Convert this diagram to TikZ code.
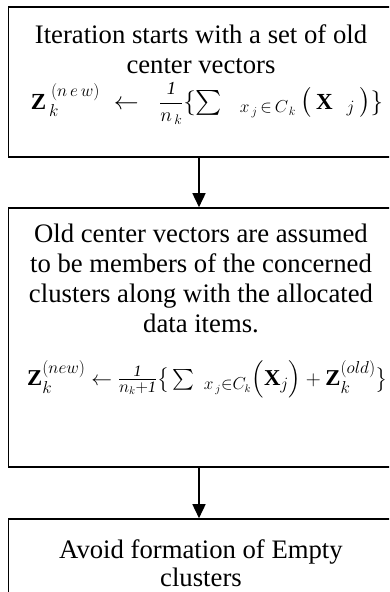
\documentclass[tikz,border=0pt]{standalone}
\usepackage{fontspec}
\usepackage{amsmath}
\usepackage{graphicx}
\setmainfont{Liberation Serif}
\usetikzlibrary{arrows.meta}

\tikzset{
  flowbox/.style={draw=black, line width=1.6pt, rectangle,
    minimum width=383.5pt, inner sep=0pt},
  boxtext/.style={font=\fontsize{26.7}{30}\selectfont, align=center,
    inner sep=0pt, anchor=north},
  eqn/.style={font=\fontsize{23}{27}\selectfont, inner sep=0pt, anchor=base},
  flowarrow/.style={line width=1.6pt, -{Triangle[length=14pt,width=13pt]}}
}

\begin{document}
\begin{tikzpicture}[x=1pt,y=-1pt]
  \useasboundingbox (0,0) rectangle (389,592);
  \clip (0,0) rectangle (389,592);

  % the three process boxes
  \node[flowbox, minimum height=150pt] (b1) at (200.25,82) {};
  \node[flowbox, minimum height=259pt] (b2) at (200.25,337.5) {};
  \node[flowbox, minimum height=132pt] (b3) at (200.25,585) {};

  % box 1: start of an iteration
  \node[boxtext] (t1) at (201,24.8)
    {Iteration starts with a set of old\\center vectors};
  \node[eqn] (e1) at (207,109)
    {$\mathbf{Z}^{\;(n\,e\,w)}_{\,k}\;\leftarrow\;\;
      \raisebox{0.1ex}{\scalebox{0.8}{$\displaystyle\frac{\textit{1}}{n_{\,k}}$}}%
      \{\textstyle\sum\;\;{}_{x_{\,j}\,\in\,C_{\,k}}
      \,\big(\,\mathbf{X}\;\;{}_{j}\,\big)\}$};

  % box 2: old centres kept as cluster members
  \node[boxtext] (t2) at (201,223.6)
    {Old center vectors are assumed\\to be members of the concerned\\%
     clusters along with the allocated\\data items.};
  \node[eqn, font=\fontsize{22.7}{27}\selectfont] (e2) at (207.5,385)
    {$\mathbf{Z}^{(new)}_{k}\leftarrow\frac{\textit{1}}{n_{k}+\textit{1}}
      \big\{\textstyle\sum\;{}_{x_{\,j}\in C_{k}}\Big(\mathbf{X}_{j}\Big)
      +\mathbf{Z}^{(old)}_{k}\big\}$};

  % box 3: no empty clusters
  \node[boxtext, font=\fontsize{26.7}{28.5}\selectfont] (t3) at (201,539)
    {Avoid formation of Empty\\clusters};

  % connectors
  \draw[flowarrow] ([xshift=-1.25pt]b1.south) -- ([xshift=-1.25pt]b2.north);
  \draw[flowarrow] ([xshift=-1.25pt]b2.south) -- ([xshift=-1.25pt]b3.north);
\end{tikzpicture}
\end{document}
